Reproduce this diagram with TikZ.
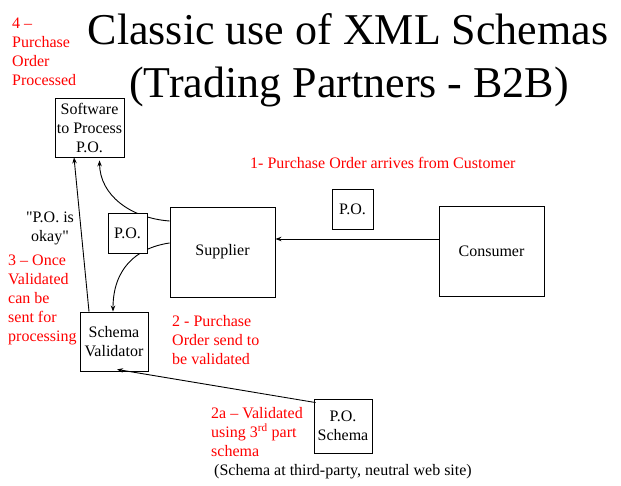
\documentclass[tikz,border=0pt]{standalone}
\usepackage{fontspec}
\setmainfont{Liberation Serif}[Ligatures=TeXOff]
\usetikzlibrary{arrows.meta}
\begin{document}
\begin{tikzpicture}[x=1pt,y=-1pt,
  box/.style={draw,line width=0.9pt,fill=white,inner sep=0pt,align=center,
              font=\fontsize{16}{19}\selectfont},
  note/.style={text=red,inner sep=0pt,align=left,font=\fontsize{16}{19}\selectfont},
  plain/.style={inner sep=0pt,align=center,font=\fontsize{16}{19}\selectfont},
  conn/.style={line width=0.9pt,-{Stealth[length=6pt,width=4.5pt]}},
  title/.style={inner sep=0pt,anchor=base,font=\fontsize{44}{53}\selectfont}]
\useasboundingbox (0,0) rectangle (621,486);

% title
\node[title] (t1) at (348,45) {Classic use of XML Schemas};
\node[title] (t2) at (349,98) {(Trading Partners - B2B)};

% main boxes
\node[box,minimum width=69pt,minimum height=59pt] (soft) at (89.5,127.5) {Software\\to Process\\P.O.};
\node[box,minimum width=105pt,minimum height=90pt] (supp) at (222.5,252) {Supplier};
\node[box,minimum width=105pt,minimum height=90pt] (cons) at (491.5,251) {Consumer};
\node[box,minimum width=41pt,minimum height=40pt] (potop) at (352.5,209) {P.O.};
\node[box,minimum width=68pt,minimum height=59pt] (val) at (114,341.5) {Schema\\Validator};
\node[box,minimum width=58pt,minimum height=54pt] (schema) at (343,426) {P.O.\\Schema};

% connectors
\draw[conn] ([yshift=12pt]cons.west) -- ([yshift=13pt]supp.east);
\draw[conn] ([xshift=-25pt]val.north) -- ([xshift=-15.5pt]soft.south);
\draw[conn] ([yshift=31pt]supp.west) .. controls (130,218) and (100,195) .. ([xshift=10pt,yshift=-3pt]soft.south);
\draw[conn] ([yshift=9pt]supp.west) .. controls (135,248) and (113,270) .. ([xshift=-1pt]val.north);
\draw[conn] ([xshift=2pt,yshift=-4pt]schema.north west) -- ([xshift=3pt,yshift=2pt]val.south);

% P.O. document handed on by the supplier
\node[box,minimum width=39pt,minimum height=40pt] (poleft) at (127.5,233) {P.O.};

% step notes
\node[note,anchor=west] (n4) at (12,51.5) {4 –\\Purchase\\Order\\Processed};
\node[plain] (ok) at (50,228.5) {"P.O. is\\okay"};
\node[note,anchor=west] (n3) at (8,299.5) {3 – Once\\Validated\\can be\\sent for\\processing};
\node[note,anchor=west] (n1) at (250,163) {1- Purchase Order arrives from Customer};
\node[note,anchor=west] (n2) at (172,340.5) {2 - Purchase\\Order send to\\be validated};
\node[note,anchor=west] (n2a) at (211,432) {2a – Validated\\using 3\textsuperscript{rd} part\\schema};
\node[plain] (site) at (343,472) {(Schema at third-party, neutral web site)};
\end{tikzpicture}
\end{document}
